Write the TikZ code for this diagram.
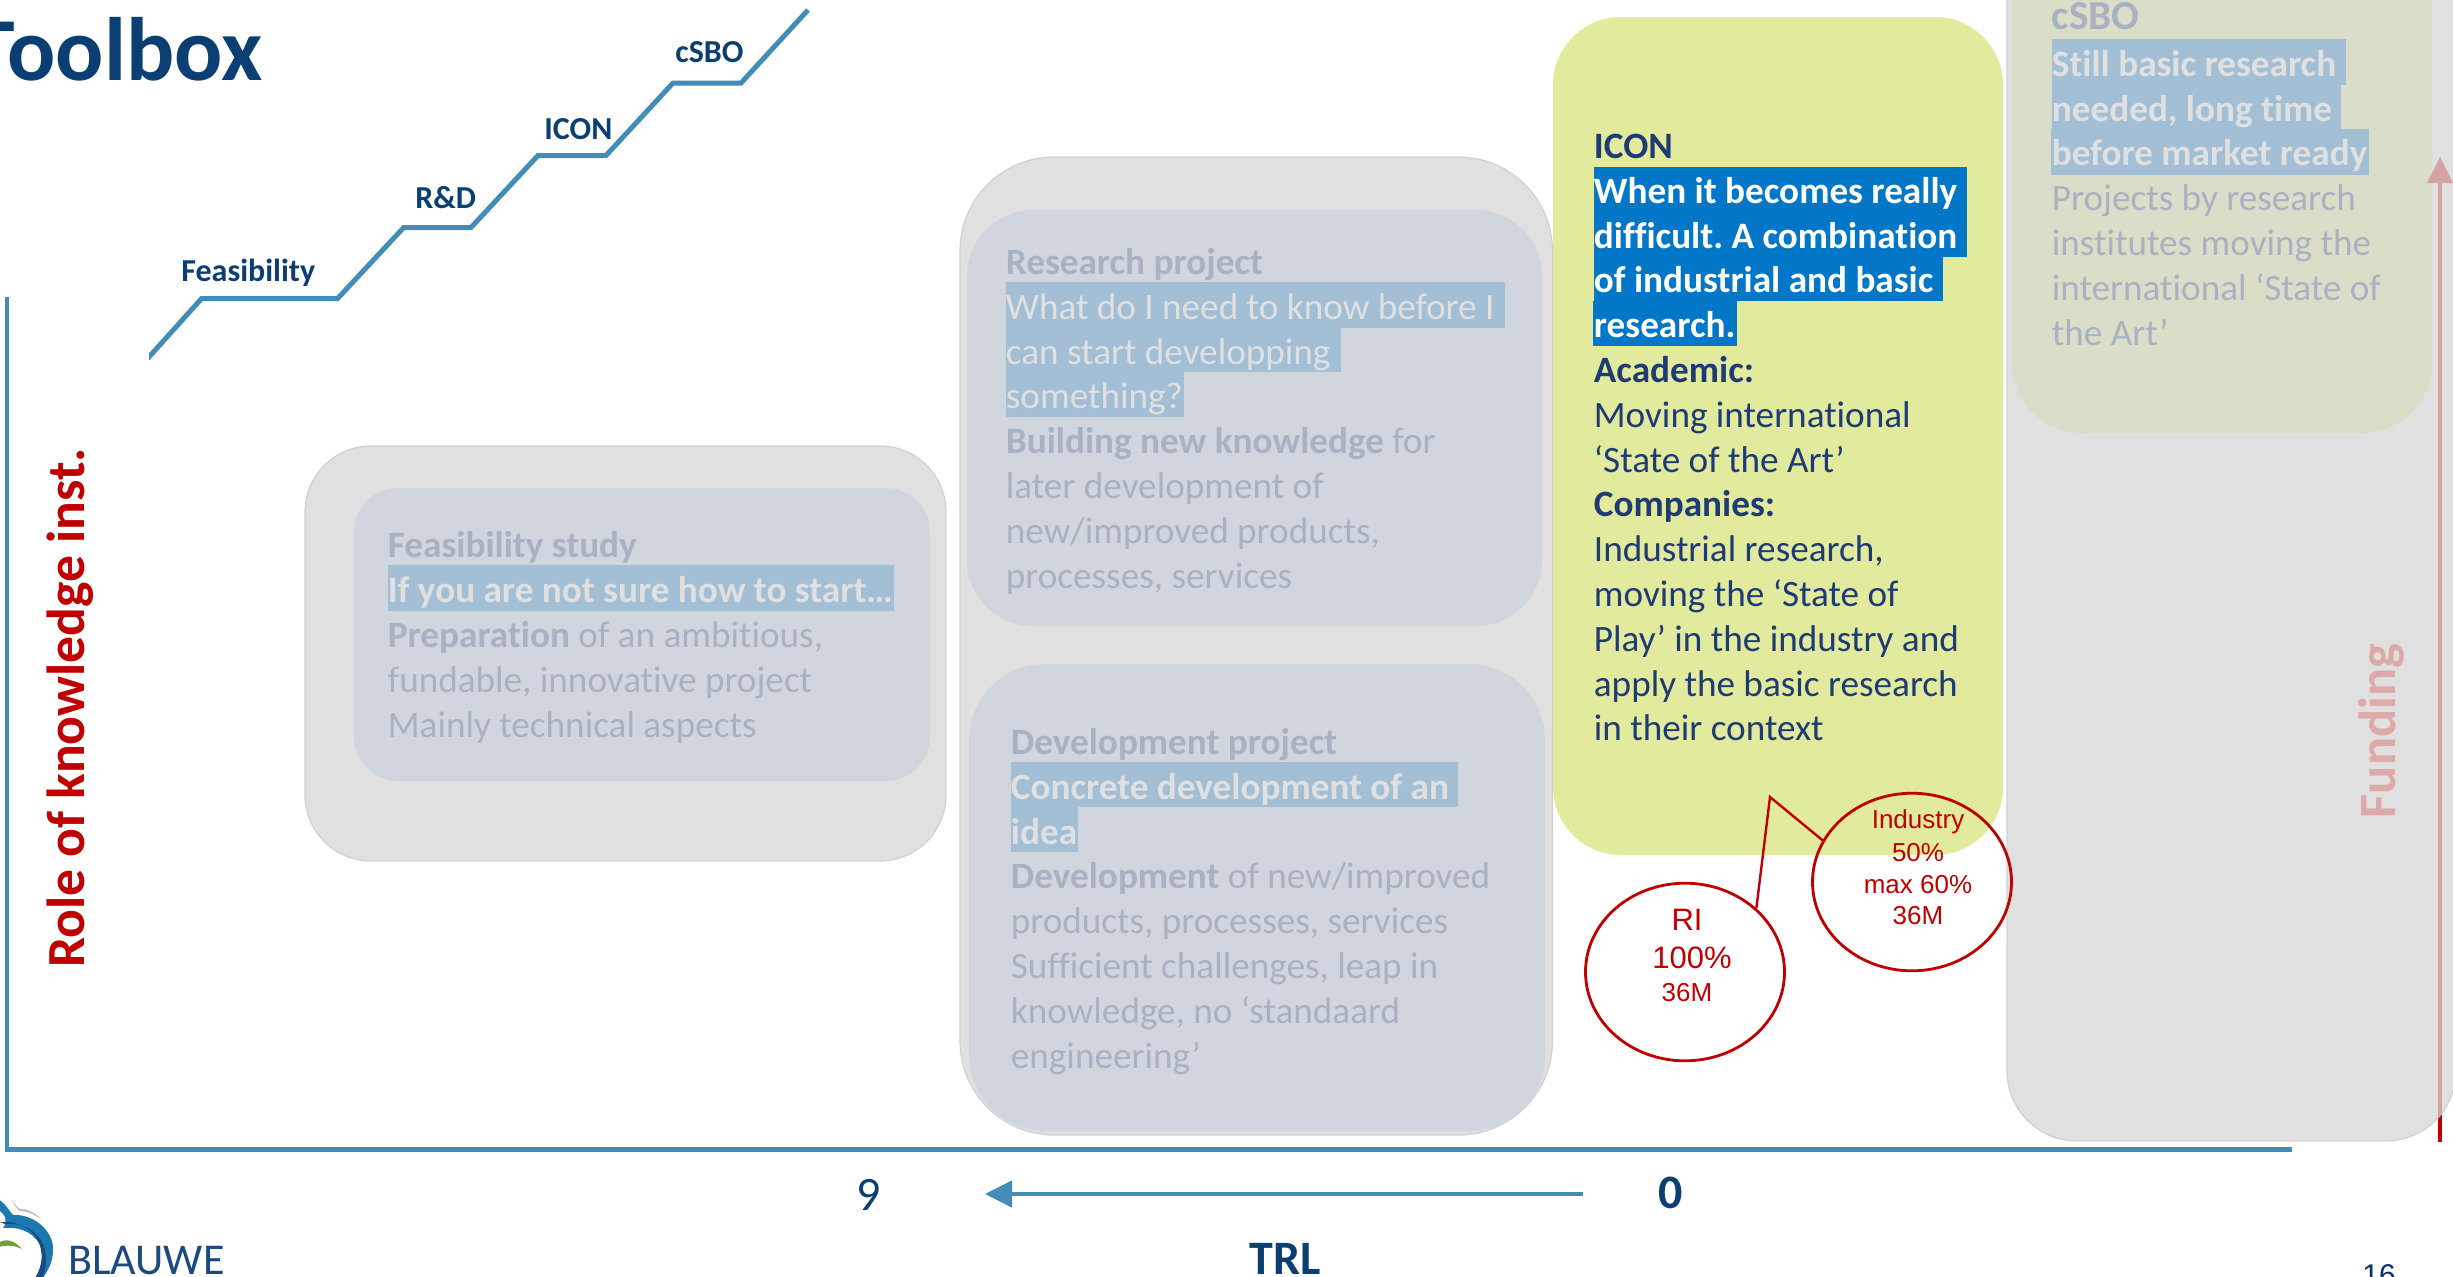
\documentclass[tikz,border=0pt]{standalone}
\usepackage{fontspec}
\setmainfont[Ligatures=NoCommon]{Carlito}
\newfontfamily\arialf{Liberation Sans}
\usetikzlibrary{shapes.geometric,arrows.meta}
\frenchspacing
\definecolor{axisblue}{HTML}{438CB8}
\definecolor{titleblue}{HTML}{0B3F73}
\definecolor{outergrey}{HTML}{E0E0E0}
\definecolor{outeredge}{HTML}{CDD2D8}
\definecolor{innerblue}{HTML}{D1D6DE}
\definecolor{innerolive}{HTML}{DADDC8}
\definecolor{fadetext}{HTML}{A9B2C2}
\definecolor{fadehl}{HTML}{A3BFD5}
\definecolor{iconyellow}{HTML}{E2EA9E}
\definecolor{iconhl}{HTML}{0277C8}
\definecolor{icontext}{HTML}{1F3B73}
\definecolor{redc}{HTML}{C00000}
\definecolor{fadered}{HTML}{D4A3A3}
\definecolor{fundtext}{HTML}{DDA9A9}
\definecolor{pagenum}{HTML}{0B2F6B}
\definecolor{logoblue}{HTML}{1B78B0}
\definecolor{logodark}{HTML}{1B4A80}
\definecolor{logogreen}{HTML}{6FA32E}
\definecolor{logogrey}{HTML}{BDBDBD}
\newcommand{\bodyfont}{\fontsize{18.6}{22.4}\selectfont}
\newcommand{\firstline}{\rule{0pt}{16pt}}
\tikzset{
  outerbox/.style={fill=outergrey,draw=outeredge,line width=0.6pt,rounded corners=#1},
  innerbox/.style={fill=#1,draw=none},
  hlrow/.style={fill=fadehl,draw=none},
  iconrow/.style={fill=iconhl,draw=none},
  bodytext/.style={anchor=north west,inner sep=0pt,align=left,font=\bodyfont,text=#1},
  steplabel/.style={anchor=base west,inner sep=0pt,font=\fontsize{16}{19}\selectfont\bfseries,text=titleblue},
  axisline/.style={draw=axisblue,line width=2.3pt},
  ovalnote/.style={ellipse,draw=redc,line width=1.4pt,minimum width=99.5pt,minimum height=88.8pt,inner sep=0pt},
  ovaltext/.style={anchor=base,inner sep=0pt,text=redc,font=\arialf\fontsize{#1}{16}\selectfont,align=center},
}
\begin{document}
\begin{tikzpicture}[x=0.5pt,y=-0.5pt]
\useasboundingbox (0,0) rectangle (2453,1276);
\clip (0,0) rectangle (2453,1276);
\fill[white] (0,0) rectangle (2453,1276);

% axes
\coordinate (axtop) at (7,297);
\coordinate (axend) at (2292,1149.5);
\draw[axisline,line cap=butt] (axtop) -- (7,1151.5);
\draw[axisline] (5,1149.5) -- (axend);

% title
\node[anchor=base west,inner sep=0pt,font=\fontsize{45}{50}\selectfont\bfseries,text=titleblue] (title) at (-30,80) {Toolbox};

% staircase
\begin{scope}
\clip (149,0) rectangle (900,400);
\draw[axisblue,line width=2.5pt,line join=miter] (140,367) -- (201.6,298.5) -- (337.6,298.5) -- (403.7,227.5) -- (471,227.5) -- (538,155.5) -- (606,155.5) -- (673,83) -- (741,83) -- (808,10);
\end{scope}
\node[steplabel] (sfeas) at (181,281.5) {Feasibility};
\node[steplabel] (srd) at (415,208) {R\&D};
\node[steplabel] (sicon) at (544,139) {ICON};
\node[steplabel] (scsbo) at (675,62) {cSBO};

% feasibility
\draw[outerbox=33pt] (305,446) rectangle (946,861);
\fill[innerbox=innerblue,rounded corners=22pt] (354,488) rectangle (930,781);
\fill[hlrow] (388,565) rectangle (894,611);
\node[bodytext=fadetext] (feastext) at (387.5,525.5) {\firstline\textbf{Feasibility study}\\
\textcolor{outergrey}{\textbf{If you are not sure how to start…}}\\
\textbf{Preparation} of an ambitious,\\
fundable, innovative project\\
Mainly technical aspects};

% research + development
\draw[outerbox=47pt] (960,157) rectangle (1552.5,1135);
\fill[innerbox=innerblue,rounded corners=33pt] (967,210) rectangle (1542,626);
\fill[hlrow] (1006,282) rectangle (1505,328);
\fill[hlrow] (1006,328) rectangle (1341,372);
\fill[hlrow] (1006,372) rectangle (1184,417);
\node[bodytext=fadetext] (restext) at (1005.5,242) {\firstline\textbf{Research project}\\
\textcolor{outergrey}{What do I need to know before I}\\
\textcolor{outergrey}{can start developping}\\
\textcolor{outergrey}{something?}\\
\textbf{Building new knowledge} for\\
later development of\\
new/improved products,\\
processes, services};

\fill[innerbox=innerblue,rounded corners=38pt] (969,664) rectangle (1545,1131);
\fill[hlrow] (1011,762) rectangle (1458,807);
\fill[hlrow] (1011,807) rectangle (1078,852);
\node[bodytext=fadetext] (devtext) at (1010.5,722) {\firstline\textbf{Development project}\\
\textcolor{outergrey}{\textbf{Concrete development of an}}\\
\textcolor{outergrey}{\textbf{idea}}\\
\textbf{Development} of new/improved\\
products, processes, services\\
Sufficient challenges, leap in\\
knowledge, no ‘standaard\\
engineering’};

% icon
\fill[iconyellow,rounded corners=34pt] (1553,17) rectangle (2003,855);
\fill[iconrow] (1594,167) rectangle (1967,257);
\fill[iconrow] (1594,257) rectangle (1943,301);
\fill[iconrow] (1593,301) rectangle (1737,346);
\node[bodytext=icontext] (icontxt) at (1593.5,126) {\firstline\textbf{ICON}\\
\textcolor{white}{\textbf{When it becomes really}}\\
\textcolor{white}{\textbf{difficult. A combination}}\\
\textcolor{white}{\textbf{of industrial and basic}}\\
\textcolor{white}{\textbf{research.}}\\
\textbf{Academic:}\\
Moving international\\
‘State of the Art’\\
\textbf{Companies:}\\
Industrial research,\\
moving the ‘State of\\
Play’ in the industry and\\
apply the basic research\\
in their context};

% funding arrow (red part lies outside the grey panel)
\coordinate (fundbot) at (2440,1142);
\coordinate (fundtop) at (2440,157);
\draw[redc,line width=2.3pt] (fundbot) -- (2440,1090);
\path[outerbox=35pt,draw=none] (2007,-200) rectangle (2456,1141);
\draw[outeredge,line width=0.6pt,rounded corners=35pt] (2007,-200) rectangle (2456,1141);
\fill[innerbox=innerolive,rounded corners=35pt] (2012,-200) rectangle (2432,433);
\begin{scope}
\clip[rounded corners=35pt] (2007,-200) rectangle (2456,1141);
\draw[fadered,line width=2.3pt] (2440,1142) -- (2440,180);
\fill[fadered] (fundtop) -- (2453,183) -- (2427,183) -- cycle;
\end{scope}
\fill[hlrow] (2052,39) rectangle (2346,85);
\fill[hlrow] (2052,85) rectangle (2341,129);
\fill[hlrow] (2051,129) rectangle (2369,175);
\node[bodytext=fadetext] (csbotxt) at (2051.5,-3) {\firstline{\fontsize{20.6}{22.4}\selectfont\bfseries cSBO}\\[1pt]
\textcolor{outergrey}{\textbf{Still basic research}}\\
\textcolor{outergrey}{\textbf{needed, long time}}\\
\textcolor{outergrey}{\textbf{before market ready}}\\
Projects by research\\
institutes moving the\\
international ‘State of\\
the Art’};

% side labels
\node[anchor=base,rotate=90,inner sep=0pt,font=\fontsize{26.8}{30}\selectfont\bfseries,text=redc] (role) at (84,708) {Role of knowledge inst.};
\node[anchor=base,rotate=90,inner sep=0pt,font=\fontsize{26.2}{30}\selectfont\bfseries,text=fundtext] (funding) at (2395,731) {Funding};

% funding shares
\node[ovalnote] (ri) at (1685,972) {};
\node[ovalnote] (ind) at (1912,882) {};
\coordinate (apex) at (1770,797);
\draw[redc,line width=1.2pt,line join=miter] (ri.north east) -- (apex) -- (ind.155);
\node[ovaltext=15.5] (ri1) at (1687,930) {RI};
\node[ovaltext=15.5] (ri2) at (1692,968) {100\%};
\node[ovaltext=13] (ri3) at (1687,1001) {36M};
\node[ovaltext=13] (ind1) at (1918,828) {Industry};
\node[ovaltext=13] (ind2) at (1918,861) {50\%};
\node[ovaltext=13] (ind3) at (1918,893) {max 60\%};
\node[ovaltext=13] (ind4) at (1918,924) {36M};

% TRL arrow
\coordinate (trlstart) at (1583,1194);
\coordinate (trlend) at (985,1194);
\node[anchor=base,inner sep=0pt,font=\fontsize{24}{28}\selectfont,text=titleblue] (nine) at (869,1210) {9};
\node[anchor=base,inner sep=0pt,font=\fontsize{24}{28}\selectfont\bfseries,text=titleblue] (zero) at (1671,1208) {0};
\draw[axisline,-{Triangle[length=13.5pt,width=13pt]}] (trlstart) -- (trlend);
\node[anchor=base,inner sep=0pt,font=\fontsize{24}{28}\selectfont\bfseries,text=titleblue] (trl) at (1285,1274) {TRL};

% logo
\fill[logoblue] (-2,1199) .. controls (6,1204) and (10,1212) .. (13,1215) .. controls (35,1214) and (54,1232) .. (53,1250) .. controls (53,1262) and (48,1270) .. (43,1278) -- (36,1278) .. controls (42,1268) and (44,1260) .. (42,1250) .. controls (38,1235) and (22,1226) .. (3,1228) .. controls (8,1222) and (6,1214) .. (-2,1210) -- cycle;
\fill[logodark] (0,1222) .. controls (20,1220) and (38,1232) .. (41,1250) .. controls (43,1260) and (40,1270) .. (35,1278) -- (42,1278) .. controls (46,1270) and (47,1260) .. (45,1250) .. controls (41,1232) and (22,1222) .. (5,1224) -- cycle;
\fill[logogreen] (-2,1243) .. controls (6,1238) and (14,1240) .. (22,1249) .. controls (14,1245) and (6,1245) .. (-2,1247) -- cycle;
\fill[logogrey] (12,1200) .. controls (16,1206) and (18,1208) .. (20,1209) .. controls (28,1208) and (36,1214) .. (41,1219) .. controls (34,1214) and (26,1211) .. (20,1211) .. controls (17,1209) and (14,1205) .. (12,1200) -- cycle;
\node[anchor=base west,inner sep=0pt,font=\fontsize{22}{24}\selectfont,text=logodark] (blauwe) at (68,1274) {BLAUWE};

% page number
\node[anchor=base west,inner sep=0pt,font=\arialf\fontsize{15}{18}\selectfont,text=pagenum] (pnum) at (2362,1285) {16};
\end{tikzpicture}
\end{document}
